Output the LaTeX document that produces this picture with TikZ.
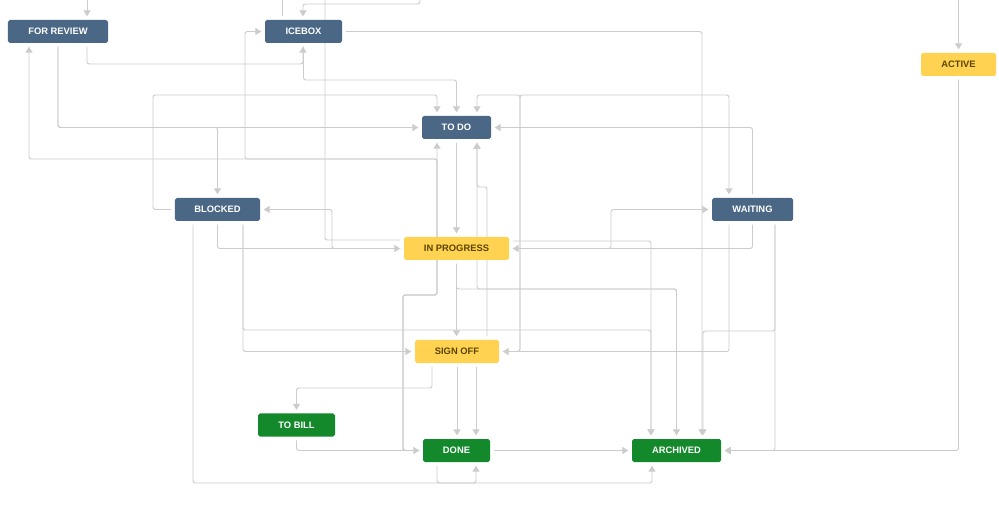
\documentclass[tikz,border=0pt]{standalone}
\usepackage{fontspec}
\setmainfont{Liberation Sans}
\usetikzlibrary{arrows.meta}
\usetikzlibrary{backgrounds}

\definecolor{jirablue}{HTML}{4A6785}
\definecolor{jirayellow}{HTML}{FFD351}
\definecolor{jirabrown}{HTML}{594300}
\definecolor{jiragreen}{HTML}{14892C}
\definecolor{wire}{HTML}{CCCCCC}

\tikzset{
  status/.style={rounded corners=1.5pt, minimum height=0.69cm, inner sep=0pt,
    font=\bfseries\fontsize{8}{9}\selectfont},
  bluestatus/.style={status, fill=jirablue, text=white},
  yellowstatus/.style={status, fill=jirayellow, text=jirabrown},
  greenstatus/.style={status, fill=jiragreen, text=white},
  wiring/.style={draw=wire, fill=none, line width=0.8pt, rounded corners=2pt,
    shorten <=3pt, shorten >=3pt},
}

\begin{document}
\begin{tikzpicture}[x=0.03cm, y=-0.03cm, >={Triangle[length=5pt,width=6pt,fill=wire]}]
\useasboundingbox (0,0) rectangle (999,513);

\node[bluestatus, minimum width=3cm](forrev) at (58,31.5) {FOR REVIEW};
\node[bluestatus, minimum width=2.31cm](icebox) at (303.5,31.5) {ICEBOX};
\node[yellowstatus, minimum width=2.25cm](active) at (958.5,64.5) {ACTIVE};
\node[bluestatus, minimum width=2.07cm](todo) at (456.5,127.5) {TO DO};
\node[bluestatus, minimum width=2.55cm](blocked) at (217.5,209.5) {BLOCKED};
\node[bluestatus, minimum width=2.43cm](waiting) at (752.5,209.5) {WAITING};
\node[yellowstatus, minimum width=3.15cm](inprog) at (456.5,248.5) {IN PROGRESS};
\node[yellowstatus, minimum width=2.52cm](signoff) at (457,351.5) {SIGN OFF};
\node[greenstatus, minimum width=2.31cm](tobill) at (296.5,425) {TO BILL};
\node[greenstatus, minimum width=2.01cm](done) at (456.5,450.5) {DONE};
\node[greenstatus, minimum width=2.67cm](archived) at (676.5,450.5) {ARCHIVED};

% ends that leave the picture at the top
\coordinate (topa) at (87,0);
\coordinate (topb) at (282,0);
\coordinate (topc) at (420,0);
\coordinate (topd) at (325,0);
\coordinate (tope) at (958.5,0);

\begin{scope}[on background layer]
\fill[white] (0,0) rectangle (999,513);
\begin{scope}[wiring]
% top
\draw[->, shorten <=0pt] (topa) -- (forrev.north -| topa);
\draw[shorten >=0pt] (icebox.north -| topb) -- (topb);
\draw[->, shorten <=0pt] (topc) |- (303,4) -- (icebox.north -| 303,0);
\draw[shorten <=0pt] (topd) |- (inprog.west |- 0,240);
\draw[->, shorten <=0pt] (tope) -- (active.north);

% for review and icebox
\draw[->] (forrev.south -| 87,0) |- (303,64) -- (icebox.south -| 303,0);
\draw[->] (forrev.south) |- (todo.west);
\draw[->] (forrev.south) |- (blocked.north |- todo.west) -- (blocked.north);
\draw[->] (icebox.south) |- (todo.north |- 0,80) -- (todo.north);
\draw[->] (icebox.east) -| (archived.north -| 702,0);

% blocked
\draw[->] (blocked.west) -| (153,95) -| (todo.north -| 437,0);
\draw[->] (blocked.south) |- (inprog.west);
\draw[->] (inprog.west) -| (332,209.5) -- (blocked.east);
\draw[->] (blocked.south -| 243,0) |- (signoff.west);
\draw[->] (blocked.south -| 243,0) |- (651,330) -- (archived.north -| 651,0);
\draw[->] (blocked.south -| 193,0) |- (476,483) -- (done.south -| 476,0);

% to do and in progress
\draw[->] (todo.south) -- (inprog.north);
\draw[->] (inprog.south) -- (inprog.south |- signoff.north);
\draw[->] (inprog.south) |- (archived.north |- 0,289) -- (archived.north);
\draw[->] (inprog.east |- 0,241) -| (archived.north -| 651,0);
\draw[->] (inprog.east) -| (611,209.5) -- (waiting.west);
\draw[->] (archived.north) |- (477,289) -- (todo.south -| 477,0);

% sign off
\draw[->] (signoff.north -| 487,0) |- (477,187) -- (todo.south -| 477,0);
\draw[->] (signoff.east) -| (520,95) -| (todo.north -| 477,0);
\draw[->] (signoff.east) -| (520,95) -| (waiting.north -| 729,0);
\draw[->] (signoff.south -| 432,0) |- (tobill.north |- 0,388) -- (tobill.north);
\draw[->] (signoff.south) -- (signoff.south |- done.north);
\draw[->] (signoff.south -| 476,0) -- (done.north -| 476,0);

% waiting and active
\draw[->] (waiting.north) |- (todo.east);
\draw[->] (waiting.south) |- (inprog.east);
\draw[->] (waiting.south -| 729,0) |- (signoff.east);
\draw[->] (waiting.south -| 775,0) |- (703,331) -- (archived.north -| 703,0);
\draw[->] (waiting.south -| 775,0) |- (archived.east);
\draw[->] (active.south) |- (archived.east);

% to bill and done
\draw[->] (tobill.south) |- (done.west);
\draw[->] (done.east) -- (archived.west);
\draw[->] (done.south -| 437,0) |- (652,483) -- (archived.south -| 652,0);
\draw[->] (done.west) -| (403,295) -| (todo.south -| 437,0);
\draw[->] (done.west) -| (403,295) -| (437,159) -| (forrev.south -| 29,0);
\draw[->] (done.west) -| (403,295) -| (437,159) -| (245,31.5) -- (icebox.west);
\end{scope}
\end{scope}
\end{tikzpicture}
\end{document}
